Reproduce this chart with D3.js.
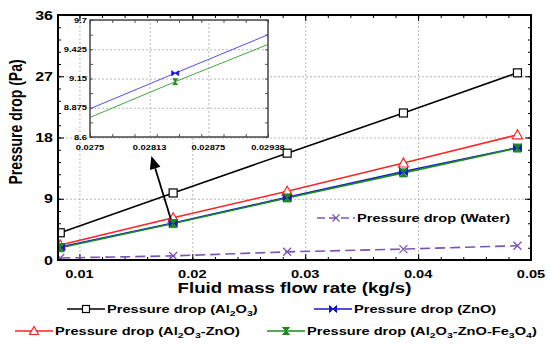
<!DOCTYPE html>
<html>
<head>
<style>
  body { margin: 0; background: #fff; }
  svg { display: block; font-family: "Liberation Sans", Arial, sans-serif; font-weight: bold; }
  .grid line { stroke: #b8b8b8; stroke-dasharray: 2,2; }
  .grid path { display: none; }
  .ax path { display: none; }
  .ax line { stroke: #000; stroke-width: 1; }
  .iax line { stroke: #555; stroke-width: 1; }
  .iax path { display: none; }
</style>
</head>
<body>
<script src="https://cdnjs.cloudflare.com/ajax/libs/d3/7.8.5/d3.min.js"></script>
<script>
// mass flow rate (kg/s) and pressure drop (Pa) per fluid
const flow     = [0.0083, 0.0183, 0.0284, 0.0387, 0.0488];
const al2o3    = [4.0, 9.85, 15.7, 21.6, 27.5];
const al2o3Zno = [2.2, 6.2, 10.1, 14.25, 18.4];
const zno      = [1.9, 5.45, 9.2, 13.0, 16.5];
const ternary  = [1.8, 5.35, 9.12, 12.8, 16.45];
const water    = [0.3, 0.6, 1.2, 1.6, 2.1];

const xTicks = [0.01, 0.02, 0.03, 0.04, 0.05];
const yTicks = [0, 9, 18, 27, 36];
const insetXTicks = [0.0275, 0.02813, 0.02875, 0.02938];
const insetYTicks = [8.6, 8.875, 9.15, 9.425, 9.7];

const SX = 1.33; // the source picture is stretched sideways

const series = [
  { key: "al2o3", values: al2o3, color: "#000", width: 1.6, marker: "square", dash: null },
  { key: "al2o3Zno", values: al2o3Zno, color: "#ff2424", width: 1.6, marker: "triangle", dash: null },
  { key: "zno", values: zno, color: "#1515d8", width: 1.6, marker: "bowtie", dash: null },
  { key: "ternary", values: ternary, color: "#1d8a1d", width: 1.6, marker: "hourglass", dash: null },
  { key: "water", values: water, color: "#7b55b5", width: 1.6, marker: "cross", dash: "10,5" }
];

const pLeft = 58, pRight = 531, pTop = 15, pBottom = 260;
const x = d3.scaleLinear().domain([0.0081, 0.05]).range([pLeft, pRight]);
const y = d3.scaleLinear().domain([0, 36]).range([pBottom, pTop]);

const svg = d3.select("body").append("svg").attr("width", 550).attr("height", 345);

function drawMarker(g, type, color, s) {
  s = s || 4;
  if (type === "square") {
    g.append("rect").attr("x", -s).attr("y", -s).attr("width", 2 * s).attr("height", 2 * s)
      .attr("fill", "#fff").attr("stroke", color).attr("stroke-width", 1.2);
  } else if (type === "triangle") {
    g.append("path").attr("d", `M0,${-s - 1}L${s + 1},${s}L${-s - 1},${s}Z`)
      .attr("fill", "#fff").attr("stroke", color).attr("stroke-width", 1.2);
  } else if (type === "bowtie") {
    g.append("path").attr("d", `M${-s},${-s}L0,0L${-s},${s}ZM${s},${-s}L0,0L${s},${s}Z`)
      .attr("fill", color).attr("stroke", color).attr("stroke-width", 1);
  } else if (type === "hourglass") {
    g.append("path").attr("d", `M${-s},${-s}L${s},${-s}L0,0ZM${-s},${s}L${s},${s}L0,0Z`)
      .attr("fill", color).attr("stroke", color).attr("stroke-width", 1);
  } else if (type === "cross") {
    g.append("path").attr("d", `M${-s},${-s}L${s},${s}M${-s},${s}L${s},${-s}`)
      .attr("stroke", color).attr("stroke-width", 1.3).attr("fill", "none");
  }
}

// stretched text helper; parts are strings or [text, "sub"]
function label(parent, px, py, parts, size, anchor) {
  const t = parent.append("text")
    .attr("transform", `translate(${px},${py}) scale(${SX},1)`)
    .attr("font-size", size).attr("text-anchor", anchor || "start").attr("fill", "#000");
  let shifted = false;
  parts.forEach(p => {
    if (Array.isArray(p)) {
      t.append("tspan").attr("font-size", size * 0.72).attr("dy", shifted ? 0 : 3).text(p[0]);
      shifted = true;
    } else {
      t.append("tspan").attr("dy", shifted ? -3 : 0).text(p);
      shifted = false;
    }
  });
  return t;
}

// grid
svg.append("g").attr("class", "grid").attr("transform", `translate(0,${pBottom})`)
  .call(d3.axisBottom(x).tickValues(xTicks.slice(0, 4)).tickSize(-(pBottom - pTop)).tickFormat(""));
svg.append("g").attr("class", "grid").attr("transform", `translate(${pLeft},0)`)
  .call(d3.axisLeft(y).tickValues([9, 18, 27]).tickSize(-(pRight - pLeft)).tickFormat(""));

// ticks on all four sides, pointing inward
const xMinor = d3.range(10, 51, 2).map(v => v / 1000);
const yMinor = d3.range(0, 37, 1.8);
[[d3.axisBottom, pBottom], [d3.axisTop, pTop]].forEach(([fn, pos]) => {
  svg.append("g").attr("class", "ax").attr("transform", `translate(0,${pos})`)
    .call(fn(x).tickValues(xMinor).tickSize(-3).tickFormat(""));
  svg.append("g").attr("class", "ax").attr("transform", `translate(0,${pos})`)
    .call(fn(x).tickValues(xTicks).tickSize(-6).tickFormat(""));
});
[[d3.axisLeft, pLeft], [d3.axisRight, pRight]].forEach(([fn, pos]) => {
  svg.append("g").attr("class", "ax").attr("transform", `translate(${pos},0)`)
    .call(fn(y).tickValues(yMinor).tickSize(-3).tickFormat(""));
  svg.append("g").attr("class", "ax").attr("transform", `translate(${pos},0)`)
    .call(fn(y).tickValues(yTicks).tickSize(-6).tickFormat(""));
});

// tick labels
xTicks.forEach(v => label(svg, x(v), 278, [String(v)], 11, "middle"));
yTicks.forEach(v => label(svg, 53, y(v) + 4.5, [String(v)], 12, "end"));

// clip for main plot
svg.append("clipPath").attr("id", "mainClip").append("rect")
  .attr("x", pLeft).attr("y", pTop).attr("width", pRight - pLeft).attr("height", pBottom - pTop);

const line = d3.line().x((d, i) => x(flow[i])).y(d => y(d));
const plot = svg.append("g").attr("clip-path", "url(#mainClip)");
const order = ["water", "al2o3", "al2o3Zno", "zno", "ternary"];
order.forEach(k => {
  const s = series.find(d => d.key === k);
  plot.append("path").datum(s.values).attr("d", line)
    .attr("fill", "none").attr("stroke", s.color).attr("stroke-width", s.width)
    .attr("stroke-dasharray", s.dash);
});
order.forEach(k => {
  const s = series.find(d => d.key === k);
  s.values.forEach((v, i) => {
    const g = plot.append("g").attr("transform", `translate(${x(flow[i])},${y(v)})`);
    drawMarker(g, s.marker, s.color, 4);
  });
});

// frame
svg.append("rect").attr("x", pLeft).attr("y", pTop).attr("width", pRight - pLeft).attr("height", pBottom - pTop)
  .attr("fill", "none").attr("stroke", "#000").attr("stroke-width", 2);

// axis titles
label(svg, (pLeft + pRight) / 2, 293, ["Fluid mass flow rate (kg/s)"], 14, "middle");
svg.append("text").attr("transform", `translate(22,122) rotate(-90) scale(1,${SX})`)
  .attr("font-size", 14).attr("text-anchor", "middle").text("Pressure drop (Pa)");

// inset zoom
const xi = d3.scaleLinear().domain([0.0275, 0.02938]).range([90, 268]);
const yi = d3.scaleLinear().domain([8.6, 9.7]).range([137, 20]);
const inset = svg.append("g");
inset.append("rect").attr("x", 90).attr("y", 20).attr("width", 178).attr("height", 117).attr("fill", "#fff");
inset.append("g").attr("class", "grid").attr("transform", "translate(0,137)")
  .call(d3.axisBottom(xi).tickValues(insetXTicks.slice(1, 3)).tickSize(-117).tickFormat(""));
inset.append("g").attr("class", "grid").attr("transform", "translate(90,0)")
  .call(d3.axisLeft(yi).tickValues(insetYTicks.slice(1, 4)).tickSize(-178).tickFormat(""));
const ixMinor = d3.range(0, 9).map(i => 0.0275 + i * 0.000235);
const iyMinor = d3.range(0, 9).map(i => 8.6 + i * 0.1375);
[[d3.axisBottom, 137], [d3.axisTop, 20]].forEach(([fn, pos]) => {
  inset.append("g").attr("class", "iax").attr("transform", `translate(0,${pos})`)
    .call(fn(xi).tickValues(ixMinor).tickSize(-3).tickFormat(""));
});
[[d3.axisLeft, 90], [d3.axisRight, 268]].forEach(([fn, pos]) => {
  inset.append("g").attr("class", "iax").attr("transform", `translate(${pos},0)`)
    .call(fn(yi).tickValues(iyMinor).tickSize(-3).tickFormat(""));
});
inset.append("clipPath").attr("id", "insetClip").append("rect")
  .attr("x", 90).attr("y", 20).attr("width", 178).attr("height", 117);
const iline = d3.line().x((d, i) => xi(flow[i])).y(d => yi(d));
const ip = inset.append("g").attr("clip-path", "url(#insetClip)");
[["zno", "#4f4fff"], ["ternary", "#43a843"]].forEach(([k, c]) => {
  const s = series.find(d => d.key === k);
  ip.append("path").datum(s.values).attr("d", iline)
    .attr("fill", "none").attr("stroke", c).attr("stroke-width", 1);
  const g = ip.append("g").attr("transform", `translate(${xi(flow[2])},${yi(s.values[2])})`);
  if (k === "zno") {
    g.append("path").attr("d", "M-3.5,-2.5L0,0L-3.5,2.5ZM3.5,-2.5L0,0L3.5,2.5Z").attr("fill", s.color).attr("stroke", s.color).attr("stroke-width", 0.8);
  } else {
    g.append("path").attr("d", "M-2.5,-3L2.5,-3L0,0ZM-2.5,3L2.5,3L0,0Z").attr("fill", s.color).attr("stroke", s.color).attr("stroke-width", 0.8);
  }
});
inset.append("rect").attr("x", 90).attr("y", 20).attr("width", 178).attr("height", 117)
  .attr("fill", "none").attr("stroke", "#444").attr("stroke-width", 1.5);
insetXTicks.forEach(v => label(inset, xi(v), 150, [String(v)], 7, "middle"));
insetYTicks.forEach(v => label(inset, 87, yi(v) + 2.5, [String(v)], 7, "end"));

// arrow pointing from the curves to the inset
const tail = [x(0.0181), y(6.0)], head = [x(0.01637), y(15.3)];
const ang = Math.atan2(head[1] - tail[1], head[0] - tail[0]);
const back = [head[0] - 13 * Math.cos(ang), head[1] - 13 * Math.sin(ang)];
svg.append("line").attr("x1", tail[0]).attr("y1", tail[1]).attr("x2", back[0]).attr("y2", back[1])
  .attr("stroke", "#000").attr("stroke-width", 1.8);
const nx = -Math.sin(ang) * 5.5, ny = Math.cos(ang) * 5.5;
svg.append("path")
  .attr("d", `M${head[0]},${head[1]}L${back[0] + nx},${back[1] + ny}L${back[0] - nx},${back[1] - ny}Z`)
  .attr("fill", "#000");

// legends
const legend = [
  { key: "water", lx: 317, ly: 218, parts: ["Pressure drop (Water)"] },
  { key: "al2o3", lx: 67, ly: 309, parts: ["Pressure drop (Al", ["2", "sub"], "O", ["3", "sub"], ")"] },
  { key: "zno", lx: 314, ly: 309, parts: ["Pressure drop (ZnO)"] },
  { key: "al2o3Zno", lx: 15, ly: 331, parts: ["Pressure drop (Al", ["2", "sub"], "O", ["3", "sub"], "-ZnO)"] },
  { key: "ternary", lx: 267, ly: 331, parts: ["Pressure drop (Al", ["2", "sub"], "O", ["3", "sub"], "-ZnO-Fe", ["3", "sub"], "O", ["4", "sub"], ")"] }
];
legend.forEach(d => {
  const s = series.find(e => e.key === d.key);
  const g = svg.append("g").attr("transform", `translate(${d.lx},${d.ly})`);
  g.append("line").attr("x1", 0).attr("x2", 38).attr("stroke", s.color).attr("stroke-width", 1.4)
    .attr("stroke-dasharray", s.dash ? "8,4" : null);
  const mg = g.append("g").attr("transform", "translate(19,0)");
  drawMarker(mg, s.marker, s.color, 3.5);
  label(g, 40, 4, d.parts, 11, "start");
});
</script>
</body>
</html>
